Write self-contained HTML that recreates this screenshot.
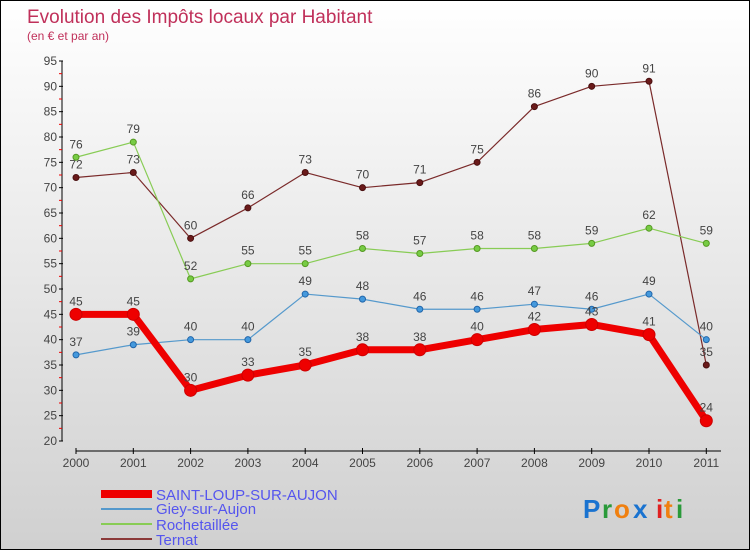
<!DOCTYPE html>
<html><head><meta charset="utf-8"><style>
body{margin:0;}
#c{position:relative;width:748px;height:548px;border:1px solid #000;background:linear-gradient(#ffffff,#d0d0d0);font-family:"Liberation Sans",sans-serif;overflow:hidden}
svg text{font-family:"Liberation Sans",sans-serif}
</style></head><body>
<div id="c">
<svg id="s" width="748" height="548">
<text x="26" y="22" font-size="19" fill="#c0305a">Evolution des Impôts locaux par Habitant</text>
<text x="26" y="39" font-size="12" fill="#c0305a">(en € et par an)</text>
<g id="axes"></g><g id="series"></g>
<g>
<rect x="100" y="489" width="51" height="8" fill="#e00"/>
<text x="155" y="499" font-size="15" fill="#5555ee">SAINT-LOUP-SUR-AUJON</text>
<rect x="100" y="507" width="51" height="2" fill="#5599cc"/>
<text x="155" y="513" font-size="15" fill="#5555ee">Giey-sur-Aujon</text>
<rect x="100" y="522" width="51" height="2" fill="#88cc55"/>
<text x="155" y="529" font-size="15" fill="#5555ee">Rochetaillée</text>
<rect x="100" y="537" width="51" height="2" fill="#8b3a3a"/>
<text x="155" y="544" font-size="15" fill="#5555ee">Ternat</text>
</g>
<g font-size="26" font-weight="bold">
<text x="582" y="517" fill="#1a73d0">P</text><text x="601" y="517" fill="#2a9a3a">r</text><text x="613" y="517" fill="#f08010">o</text><text x="632" y="517" fill="#1a73d0">x</text><text x="655" y="517" fill="#e02020">i</text><text x="663" y="517" fill="#f08010">t</text><text x="675" y="517" fill="#2a9a3a">i</text>
</g>
</svg>
</div>
<script>
const years=["2000","2001","2002","2003","2004","2005","2006","2007","2008","2009","2010","2011"];
const yTicks=[20,25,30,35,40,45,50,55,60,65,70,75,80,85,90,95];
const saintLoup=[45,45,30,33,35,38,38,40,42,43,41,24];
const giey=[37,39,40,40,49,48,46,46,47,46,49,40];
const rochetaillee=[76,79,52,55,55,58,57,58,58,59,62,59];
const ternat=[72,73,60,66,73,70,71,75,86,90,91,35];
const NS="http://www.w3.org/2000/svg";
function X(i){return 75+i*57.3;}
function Y(v){return 440-(v-20)*380/75;}
function mk(t,a,p){const e=document.createElementNS(NS,t);for(const k in a)e.setAttribute(k,a[k]);p.appendChild(e);return e;}
const ax=document.getElementById('axes');
let yl=mk('line',{x1:61,y1:Y(95),x2:61,y2:Y(20),stroke:'#000'},ax);


yTicks.forEach(v=>{
 mk('line',{x1:58,y1:Y(v),x2:62,y2:Y(v),stroke:'#000'},ax);
 if(v<95) mk('line',{x1:58,y1:Y(v+2.5),x2:61,y2:Y(v+2.5),stroke:'#e00'},ax);
 const t=mk('text',{x:56,y:Y(v)+4,'font-size':12,fill:'#444','text-anchor':'end'},ax);t.textContent=v;
 
 
});
let xl=mk('line',{x1:X(0),y1:450,x2:720,y2:450,stroke:'#000'},ax);


years.forEach((y,i)=>{
 mk('line',{x1:X(i),y1:447,x2:X(i),y2:453,stroke:'#000'},ax);
 const t=mk('text',{x:X(i),y:466,'font-size':12,fill:'#444','text-anchor':'middle'},ax);t.textContent=y;
 
 
});
const sg=document.getElementById('series');
function draw(data,name,color,dot,w,r,lc){
 const g=mk('g',{},sg);
 
 
 const pl=mk('polyline',{points:data.map((v,i)=>X(i)+','+Y(v)).join(' '),fill:'none',stroke:color,'stroke-width':w,'stroke-linejoin':'round'},g);
 
 
 data.forEach((v,i)=>{
  const c=mk('circle',{cx:X(i),cy:Y(v),r:r,fill:dot,stroke:lc,'stroke-width':1},g);
  
  
  const t=mk('text',{x:X(i),y:Y(v)-9,'font-size':12,fill:'#444','text-anchor':'middle'},g);t.textContent=v;
  
  
 });
}
draw(ternat,'ternat','#7a2a2a','#6a1a1a',1.2,3,'#4a1010');
draw(rochetaillee,'rochetaillee','#88cc55','#77cc44',1.2,3,'#559922');
draw(giey,'giey','#5599cc','#4499dd',1.2,3,'#2266aa');
draw(saintLoup,'saint-loup','#ee0000','#ee0000',7,6,'#cc0000');
</script>
</body></html>
